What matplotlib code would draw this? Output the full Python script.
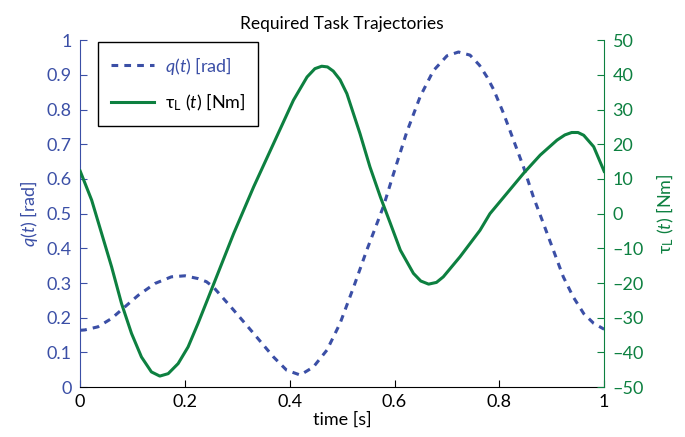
import matplotlib
matplotlib.use("Agg")
import matplotlib.pyplot as plt
from matplotlib.lines import Line2D

plt.rcParams['font.family'] = ['Lato', 'DejaVu Sans']
plt.rcParams['mathtext.fontset'] = 'custom'
plt.rcParams['mathtext.rm'] = 'Lato'
plt.rcParams['mathtext.it'] = 'Lato:italic'

BLUE = "#3b4fa6"
GREEN = "#0d8040"

# q(t)
q_t = [0.0, 0.009, 0.034, 0.06, 0.085, 0.111, 0.143, 0.174, 0.2, 0.225, 0.241,
       0.254, 0.293, 0.331, 0.369, 0.394, 0.42, 0.445, 0.471, 0.496, 0.522,
       0.547, 0.566, 0.579, 0.598, 0.623, 0.649, 0.674, 0.7, 0.722, 0.744,
       0.762, 0.776, 0.789, 0.808, 0.827, 0.846, 0.865, 0.884, 0.903, 0.922,
       0.941, 0.961, 0.98, 1.0]
q_val = [0.164, 0.165, 0.174, 0.198, 0.231, 0.265, 0.299, 0.318, 0.321, 0.313, 0.304,
         0.289, 0.222, 0.155, 0.087, 0.049, 0.035, 0.058, 0.107, 0.184, 0.289,
         0.395, 0.47, 0.522, 0.615, 0.734, 0.838, 0.912, 0.955, 0.966, 0.957,
         0.928, 0.895, 0.858, 0.789, 0.712, 0.635, 0.548, 0.472, 0.395, 0.318,
         0.26, 0.212, 0.184, 0.167]

# tau_L(t)
tau_t = [0.0, 0.022, 0.041, 0.06, 0.079, 0.098, 0.117, 0.136, 0.152, 0.168,
         0.187, 0.206, 0.225, 0.244, 0.293, 0.331, 0.369, 0.407, 0.433,
         0.448, 0.461, 0.472, 0.483, 0.496, 0.509, 0.534, 0.553, 0.573, 0.592,
         0.611, 0.636, 0.65, 0.665, 0.68, 0.693, 0.725, 0.763, 0.782, 0.814,
         0.846, 0.878, 0.91, 0.925, 0.938, 0.95, 0.961, 0.98, 1.0]
tau_val = [12.3, 3.9, -5.7, -15.3, -25.9, -34.5, -41.3, -45.6, -46.8, -46.1,
           -43.2, -38.4, -31.6, -24.4, -5.7, 7.7, 20.2, 32.7, 39.4,
           41.8, 42.5, 42.3, 41.1, 38.6, 34.6, 23.1, 13.5, 4.8, -2.8,
           -10.5, -17.2, -19.4, -20.3, -19.8, -18.2, -12.4, -4.8, 0.0, 5.8,
           11.6, 16.9, 21.2, 22.7, 23.4, 23.4, 22.6, 19.3, 12.2]

fig = plt.figure(figsize=(6.85, 4.37), dpi=100)
ax = fig.add_axes([0.117, 0.114, 0.765, 0.794])
ax2 = ax.twinx()

ax.plot(q_t, q_val, color=BLUE, lw=2.2, ls=(0, (2.2, 2.0)))
ax2.plot(tau_t, tau_val, color=GREEN, lw=2.2)

ax.set_xlim(0, 1)
ax.set_ylim(0, 1)
ax2.set_ylim(-50, 50)
ax.set_xticks([0, 0.2, 0.4, 0.6, 0.8, 1])
ax.set_xticklabels(["0", "0.2", "0.4", "0.6", "0.8", "1"])
ax.set_yticks([i / 10 for i in range(11)])
ax.set_yticklabels(["0"] + ["%.1f" % (i / 10) for i in range(1, 10)] + ["1"])
ax2.set_yticks(range(-50, 51, 10))
ax2.set_yticklabels([str(v).replace("-", "\u2013") for v in range(-50, 51, 10)])

for a in (ax, ax2):
    a.spines['top'].set_visible(False)
ax.spines['right'].set_visible(False)
ax.spines['left'].set_color(BLUE)
ax2.spines['left'].set_visible(False)
ax2.spines['right'].set_color(GREEN)
ax2.spines['bottom'].set_visible(False)

ax.tick_params(axis='x', direction='in', length=5, labelsize=13, colors='black', pad=5)
ax.tick_params(axis='y', direction='in', length=5, labelsize=13, colors=BLUE, pad=6)
ax2.tick_params(axis='y', direction='in', length=5, labelsize=13, colors=GREEN, pad=6)

ax.set_xlabel("time [s]", fontsize=13, labelpad=1)
ax.set_ylabel(r"$\mathit{q}$($\mathit{t}$) [rad]", fontsize=13, color=BLUE, labelpad=5)
ax2.set_ylabel(r"τ$_{\mathrm{L}}$ ($\mathit{t}$) [Nm]", fontsize=13, color=GREEN, labelpad=8)
ax.set_title("Required Task Trajectories", fontsize=12.5, pad=8)

handles = [Line2D([], [], color=BLUE, lw=2.2, ls=(0, (2.2, 2.0))),
           Line2D([], [], color=GREEN, lw=2.2)]
labels = [r"$\mathit{q}$($\mathit{t}$) [rad]", r"τ$_{\mathrm{L}}$ ($\mathit{t}$) [Nm]"]
leg = ax.legend(handles, labels, loc='upper left', bbox_to_anchor=(0.034, 0.995),
                borderaxespad=0, fontsize=13, fancybox=False, edgecolor='black',
                framealpha=1, handlelength=2.4, handletextpad=0.6,
                borderpad=0.7, labelspacing=0.85)
leg.get_frame().set_linewidth(1.0)
leg.get_texts()[0].set_color(BLUE)

fig.savefig("out.png", dpi=100)
